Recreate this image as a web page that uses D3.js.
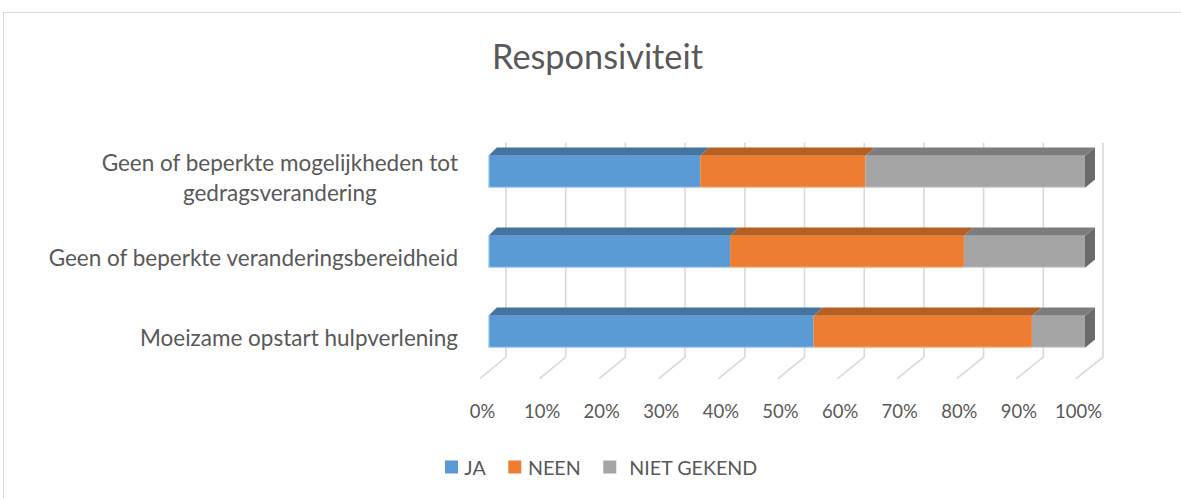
<!DOCTYPE html>
<html><head><meta charset="utf-8">
<script src="https://cdn.jsdelivr.net/npm/d3@7"></script>
<style>body{margin:0;background:#fff} svg{display:block}</style>
</head><body>
<script>
// ---- data ----
const chartTitle = "Responsiviteit";
const categories = [
  "Geen of beperkte mogelijkheden tot gedragsverandering",
  "Geen of beperkte veranderingsbereidheid",
  "Moeizame opstart hulpverlening"
];
const seriesNames = ["JA", "NEEN", "NIET GEKEND"];
const ja         = [35.5, 40.5, 54.5];
const neen       = [27.7, 39.2, 36.6];
const nietGekend = [36.8, 20.3, 8.9];
const tickValues = [0, 0.1, 0.2, 0.3, 0.4, 0.5, 0.6, 0.7, 0.8, 0.9, 1];
const tickLabels = ["0%", "10%", "20%", "30%", "40%", "50%", "60%", "70%", "80%", "90%", "100%"];

// ---- layout ----
const W = 1181, H = 498;
const FONT = "Lato, 'Open Sans', sans-serif";
const TEXT = "#595959", GRID = "#d9d9d9";
const frontCol = ["#5b9bd5", "#ed7d31", "#a5a5a5"];
const topCol   = ["#44749f", "#b65f22", "#7d7d7d"];
const sideCol  = ["#3d6890", "#a35520", "#6b6b6b"];

const svg = d3.select("body").append("svg").attr("width", W).attr("height", H);

function measure(text, size) {
  const t = svg.append("text").attr("font-family", FONT).attr("font-size", size).text(text);
  const w = t.node().getComputedTextLength(); t.remove(); return w;
}
function fit(text, target) { return 100 * target / measure(text, 100); }

const titleSize = fit(chartTitle, 211);
const catSize = fit("Moeizame opstart hulpverlening", 318);
const tickSize = fit("100%", 47);
const legSize = fit("NIET GEKEND", 128);

// border
svg.append("rect").attr("x", 3.5).attr("y", 12.5).attr("width", 1200).attr("height", 520)
  .attr("fill", "none").attr("stroke", GRID).attr("stroke-width", 1);

// title
svg.append("text").attr("x", 597.5).attr("y", 68.5).attr("text-anchor", "middle")
  .attr("font-family", FONT).attr("font-size", titleSize).attr("fill", TEXT).text(chartTitle);

// scales
const x = d3.scaleLinear().domain([0, 1]).range([488.5, 1085]);      // bar front face
const xWall = d3.scaleLinear().domain([0, 1]).range([506, 1103]);    // back wall
const xFloor = d3.scaleLinear().domain([0, 1]).range([480, 1076]);   // floor front edge
const depthX = d3.scaleLinear().domain([0, 1]).range([8.3, 10]);
const depthY = -8.3;
const y = d3.scaleBand().domain(categories).range([107.7, 395.7]).paddingInner(0.6).paddingOuter(0.6);
const wallTop = 142.7, floorBack = 357, floorFront = 378.7;

// gridlines (wall + floor)
const g = svg.append("g").attr("stroke", GRID).attr("stroke-width", 1.6).attr("fill", "none");
tickValues.forEach(v => {
  g.append("path").attr("d",
    `M${xWall(v)},${wallTop} L${xWall(v)},${floorBack} L${xFloor(v)},${floorFront}`);
});

// stacked data
const rows = categories.map((c, i) => ({ cat: c, "JA": ja[i], "NEEN": neen[i], "NIET GEKEND": nietGekend[i] }));
const stacked = d3.stack().keys(seriesNames).offset(d3.stackOffsetExpand)(rows);

const bars = svg.append("g");
stacked.forEach((s, si) => {
  s.forEach(d => {
    const x0 = x(d[0]), x1 = x(d[1]);
    const yt = y(d.data.cat), h = y.bandwidth();
    const b0 = x0 + depthX(d[0]), b1 = x1 + depthX(d[1]);
    // top face
    bars.append("path").attr("fill", topCol[si])
      .attr("d", `M${x0},${yt} L${b0},${yt + depthY} L${b1},${yt + depthY} L${x1},${yt} Z`);
    // front face
    bars.append("rect").attr("x", x0).attr("y", yt).attr("width", Math.max(0, x1 - x0)).attr("height", h)
      .attr("fill", frontCol[si]);
    // right side face
    if (si === stacked.length - 1) {
      bars.append("path").attr("fill", sideCol[si])
        .attr("d", `M${x1},${yt} L${b1},${yt + depthY} L${b1},${yt + h + depthY} L${x1},${yt + h} Z`);
    }
  });
});
// subtle light edge on left/bottom of each bar
categories.forEach(c => {
  const yt = y(c), h = y.bandwidth();
  bars.append("path").attr("fill", "none").attr("stroke", "rgba(255,255,255,0.45)").attr("stroke-width", 1)
    .attr("d", `M${x(0) + 0.5},${yt} L${x(0) + 0.5},${yt + h - 0.5} L${x(1)},${yt + h - 0.5}`);
});

// category labels (wrapped, lines centred within a right-aligned block)
const labelRight = 458, maxW = 420, lineH = 30;
categories.forEach(c => {
  const words = c.split(" ");
  const lines = []; let cur = "";
  words.forEach(w => {
    const test = cur ? cur + " " + w : w;
    if (cur && measure(test, catSize) > maxW) { lines.push(cur); cur = w; } else cur = test;
  });
  lines.push(cur);
  const widths = lines.map(l => measure(l, catSize));
  const blockW = d3.max(widths);
  const cx = labelRight - blockW / 2;
  const n = lines.length;
  lines.forEach((l, i) => {
    svg.append("text").attr("x", cx).attr("y", y(c) + 30.5 + (i - (n - 1) / 2) * lineH)
      .attr("text-anchor", "middle").attr("font-family", FONT).attr("font-size", catSize)
      .attr("fill", TEXT).text(l);
  });
});

// value axis tick labels on the floor front
tickValues.forEach((v, i) => {
  svg.append("text").attr("x", xFloor(v) + 2.5).attr("y", 417.5).attr("text-anchor", "middle")
    .attr("font-family", FONT).attr("font-size", tickSize).attr("fill", TEXT).text(tickLabels[i]);
});

// legend
const legendX = [445, 508.3, 603.3];
const legendTextX = [464.3, 528, 629.3];
seriesNames.forEach((name, i) => {
  svg.append("rect").attr("x", legendX[i]).attr("y", 460.5).attr("width", 13).attr("height", 13)
    .attr("fill", frontCol[i]);
  svg.append("text").attr("x", legendTextX[i]).attr("y", 474.5).attr("font-family", FONT)
    .attr("font-size", legSize).attr("fill", TEXT).text(name);
});
</script>
</body></html>
